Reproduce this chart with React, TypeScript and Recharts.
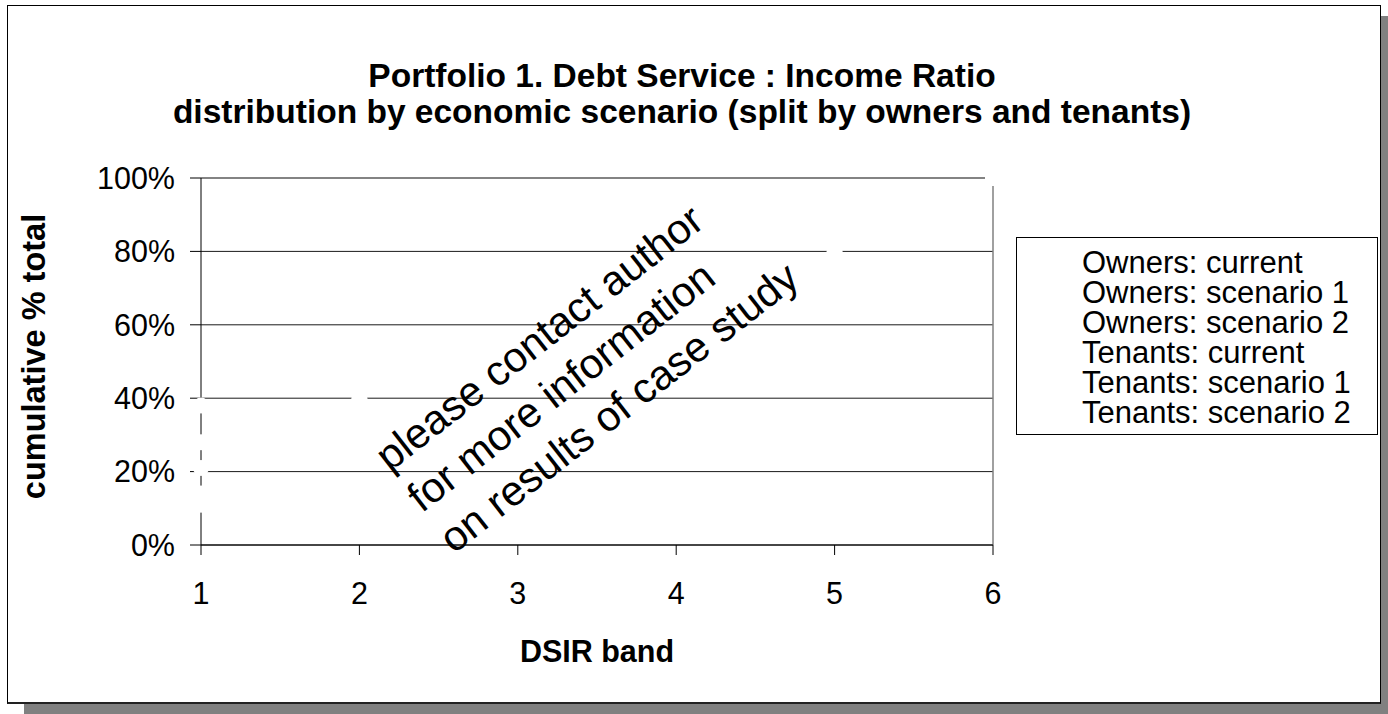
import { CartesianGrid, Label, Legend, Line, LineChart, ReferenceLine, XAxis, YAxis } from "recharts";

const FONT = '"Liberation Sans", Arial, Helvetica, sans-serif';

// DSIR bands on the x axis
const dsirBands = [1, 2, 3, 4, 5, 6];
const percentTicks = [0, 20, 40, 60, 80, 100];

// cumulative % of total per band (series drawn in white in the source)
const ownersCurrent = [38, 63, 75, 86, 93, 100];
const ownersScenario1 = [28, 50, 66, 77, 86, 100];
const ownersScenario2 = [21, 40, 56, 69, 80, 100];
const tenantsCurrent = [14, 33, 48, 64, 74, 100];
const tenantsScenario1 = [12, 27, 45, 56, 70, 100];
const tenantsScenario2 = [11, 24, 35, 51, 66, 100];

const seriesNames = [
  "Owners: current",
  "Owners: scenario 1",
  "Owners: scenario 2",
  "Tenants: current",
  "Tenants: scenario 1",
  "Tenants: scenario 2",
];

const noteLines = ["please contact author", "for more information", "on results of case study"];

const seriesValues = [
  ownersCurrent,
  ownersScenario1,
  ownersScenario2,
  tenantsCurrent,
  tenantsScenario1,
  tenantsScenario2,
];
const seriesKeys = ["oc", "os1", "os2", "tc", "ts1", "ts2"];

const data = dsirBands.map((band, i) => {
  const row: Record<string, number> = { band };
  seriesKeys.forEach((k, s) => {
    row[k] = seriesValues[s][i];
  });
  return row;
});

function LegendBox({ payload }: any) {
  return (
    <div
      style={{
        width: 362,
        height: 198,
        boxSizing: "border-box",
        border: "1px solid #000",
        background: "#fff",
        paddingTop: 10,
        fontFamily: FONT,
        fontSize: 31,
        lineHeight: "30px",
        color: "#000",
      }}
    >
      {(payload || []).map((p: any) => (
        <div key={p.value} style={{ display: "flex", alignItems: "center", whiteSpace: "nowrap", height: 30 }}>
          <svg width={65} height={20} style={{ flex: "none" }}>
            <line x1={14} x2={58} y1={10} y2={10} stroke="#FFFFFF" strokeWidth={2} />
            <circle cx={36} cy={10} r={5} fill="#FFFFFF" />
          </svg>
          <span>{p.value}</span>
        </div>
      ))}
    </div>
  );
}

export default function App() {
  return (
    <div style={{ position: "fixed", left: 0, top: 0, width: 1388, height: 714, background: "#fff" }}>
      {/* shadow + frame */}
      <div style={{ position: "absolute", left: 24, top: 16, width: 1364, height: 698, background: "#808080" }} />
      <div
        style={{
          position: "absolute",
          left: 7,
          top: 5,
          width: 1374,
          height: 699,
          boxSizing: "border-box",
          border: "1px solid #000",
          borderBottom: "2px solid #222",
          background: "#fff",
        }}
      />

      <div style={{ position: "absolute", left: 0, top: 0 }}>
        <LineChart
          width={1388}
          height={714}
          data={data}
          margin={{ top: 178, right: 395, bottom: 109, left: 81 }}
        >
          <CartesianGrid horizontal vertical={false} stroke="#000" strokeOpacity={0.9} />
          <ReferenceLine y={100} stroke="#808080" strokeWidth={1.5} />
          <ReferenceLine x={6} stroke="#808080" strokeWidth={1.5} />
          <XAxis
            dataKey="band"
            type="number"
            domain={[1, 6]}
            ticks={dsirBands}
            height={60}
            stroke="#000"
            tickSize={10}
            tickMargin={27}
            tick={{ fill: "#000", fontSize: 30.5, fontFamily: FONT }}
          >
            <Label
              value="DSIR band"
              position="bottom"
              offset={35}
              style={{ fill: "#000", fontSize: 30.5, fontWeight: "bold", fontFamily: FONT }}
            />
          </XAxis>
          <YAxis
            type="number"
            domain={[0, 100]}
            ticks={percentTicks}
            width={120}
            stroke="#000"
            tickSize={11}
            tickMargin={15}
            tickFormatter={(v) => `${v}%`}
            tick={{ fill: "#000", fontSize: 30.5, fontFamily: FONT }}
          >
            <Label
              content={({ viewBox }: any) => {
                const cy = viewBox ? viewBox.y + viewBox.height / 2 : 361;
                return (
                  <text
                    x={34}
                    y={cy - 5}
                    transform={`rotate(-90 34 ${cy - 5})`}
                    textAnchor="middle"
                    dominantBaseline="central"
                    fill="#000"
                    fontSize={32.5}
                    fontWeight="bold"
                    fontFamily={FONT}
                  >
                    cumulative % total
                  </text>
                );
              }}
            />
          </YAxis>
          <Legend
            layout="vertical"
            align="center"
            verticalAlign="middle"
            content={<LegendBox />}
            wrapperStyle={{ left: 1016, top: 237, width: 362, height: 198 }}
          />
          {seriesKeys.map((k, s) => (
            <Line
              key={k}
              type="linear"
              dataKey={k}
              name={seriesNames[s]}
              stroke="none"
              dot={{ r: 8, fill: "#FFFFFF", stroke: "none" }}
              activeDot={false}
              legendType="line"
              isAnimationActive={false}
            />
          ))}
        </LineChart>
      </div>

      {/* title and diagonal note */}
      <svg
        width={1388}
        height={714}
        style={{ position: "absolute", left: 0, top: 0, pointerEvents: "none" }}
        fontFamily={FONT}
      >
        <text x={682} y={87} textAnchor="middle" fontSize={33.5} fontWeight="bold" fill="#000">
          Portfolio 1. Debt Service : Income Ratio
        </text>
        <text x={682} y={123} textAnchor="middle" fontSize={33.5} fontWeight="bold" fill="#000">
          distribution by economic scenario (split by owners and tenants)
        </text>
        <g transform="translate(571 378) rotate(-38)">
          {noteLines.map((line, i) => (
            <text key={line} x={-201} y={(i - 1) * 52 + 15} textAnchor="start" fontSize={42} fill="#000">
              {line}
            </text>
          ))}
        </g>
      </svg>
    </div>
  );
}
